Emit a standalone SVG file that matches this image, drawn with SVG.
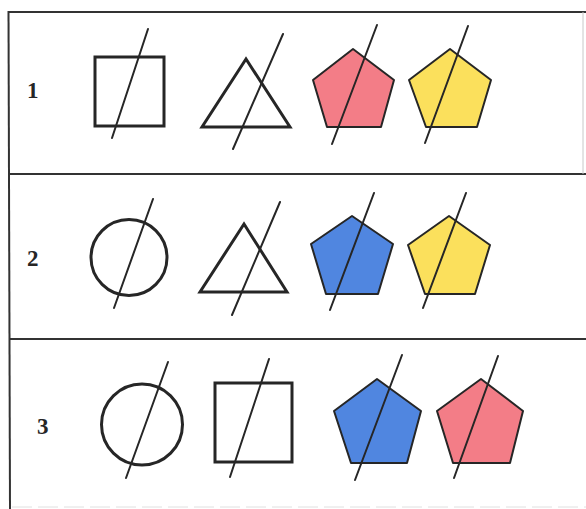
<svg xmlns="http://www.w3.org/2000/svg" width="586" height="509" viewBox="0 0 586 509">
<style>
.frame{stroke:#333;stroke-width:2;fill:none}
.thick{stroke:#262626;stroke-width:3;fill:none;stroke-linejoin:miter}
.pent{stroke:#262626;stroke-width:2;stroke-linejoin:round}
.slash{stroke:#262626;stroke-width:2;stroke-linecap:round}
.pink{fill:#f37d87}
.yellow{fill:#fbe05c}
.blue{fill:#5086e0}
.num{font-family:"Liberation Serif",serif;font-weight:bold;font-size:23px;fill:#262626}
</style>
<rect width="586" height="509" fill="#fff"/>
<g id="frame">
<line class="frame" x1="8" y1="12" x2="586" y2="12"/>
<line class="frame" x1="8" y1="174" x2="586" y2="174"/>
<line class="frame" x1="9" y1="339" x2="586" y2="339"/>
<line class="frame" x1="8.5" y1="11" x2="10" y2="509"/>
<line x1="583" y1="12" x2="583" y2="174" stroke="#c8c8c8" stroke-width="1"/>
<line x1="12" y1="507" x2="586" y2="507" stroke="#e0e0e0" stroke-width="1" stroke-dasharray="20 6"/>
</g>
<g id="row1">
<text class="num" x="27" y="98">1</text>
<g id="r1-square"><rect class="thick" x="95" y="57" width="69" height="69"/><line class="slash" x1="148" y1="29" x2="112" y2="138"/></g>
<g id="r1-triangle"><polygon class="thick" points="246,59 202,127 290,127"/><line class="slash" x1="283" y1="34" x2="233" y2="149"/></g>
<g id="r1-pink"><polygon class="pent pink" points="353,49 394,80 381,127 327,127 313,80"/><line class="slash" x1="377" y1="25" x2="332" y2="144"/></g>
<g id="r1-yellow"><polygon class="pent yellow" points="450,49 491,80 477,127 426,127 409,80"/><line class="slash" x1="468" y1="26" x2="425" y2="143"/></g>
</g>
<g id="row2">
<text class="num" x="27" y="266">2</text>
<g id="r2-circle"><circle class="thick" cx="129" cy="257.5" r="38"/><line class="slash" x1="153" y1="199" x2="114" y2="308"/></g>
<g id="r2-triangle"><polygon class="thick" points="244,224 200,292 287,292"/><line class="slash" x1="280" y1="202" x2="232" y2="315"/></g>
<g id="r2-blue"><polygon class="pent blue" points="352,216 393,244 378,294 326,294 311,244"/><line class="slash" x1="374" y1="193" x2="330" y2="310"/></g>
<g id="r2-yellow"><polygon class="pent yellow" points="449,216 490,245 475,294 425,294 408,245"/><line class="slash" x1="466" y1="193" x2="423" y2="308"/></g>
</g>
<g id="row3">
<text class="num" x="37" y="434">3</text>
<g id="r3-circle"><circle class="thick" cx="142" cy="424.5" r="40.5"/><line class="slash" x1="168" y1="362" x2="126" y2="478"/></g>
<g id="r3-square"><rect class="thick" x="215" y="383" width="77" height="79"/><line class="slash" x1="269" y1="359" x2="230" y2="477"/></g>
<g id="r3-blue"><polygon class="pent blue" points="377,379 421,411 407,463 351,463 334,411"/><line class="slash" x1="402" y1="355" x2="355" y2="480"/></g>
<g id="r3-pink"><polygon class="pent pink" points="481,379 523,411 510,463 453,463 437,411"/><line class="slash" x1="498" y1="356" x2="454" y2="478"/></g>
</g>
</svg>
